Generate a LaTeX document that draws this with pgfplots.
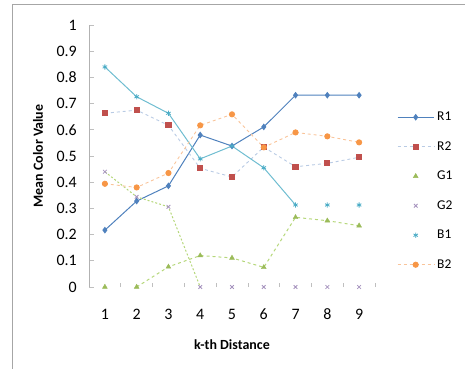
\documentclass[border=0pt]{standalone}
\usepackage{fontspec}
\setmainfont{Carlito}
\usepackage{pgfplots}
\pgfplotsset{compat=1.18}
\definecolor{cR}{HTML}{4F81BD}
\definecolor{cRl}{HTML}{B9CBE4}
\definecolor{cRed}{HTML}{C0504D}
\definecolor{cG}{HTML}{9BBB59}
\definecolor{cGl}{HTML}{B5D77A}
\definecolor{cP}{HTML}{8064A2}
\definecolor{cB}{HTML}{4BACC6}
\definecolor{cO}{HTML}{F79646}
\definecolor{cOl}{HTML}{F9C49A}
\begin{document}
\begin{tikzpicture}
\useasboundingbox (0,0) rectangle (465bp,369bp);
\draw[gray!70, line width=1bp] (12bp,0) -- (12bp,364bp) -- (465bp,364bp);
\begin{axis}[
  at={(89bp,82bp)}, anchor=south west,
  scale only axis, width=286bp, height=262bp,
  xmin=0.5, xmax=9.5, ymin=0, ymax=1,
  xtick={1,...,9}, major x tick style={draw=none},
  minor xtick={1.5,2.5,...,9.5}, minor x tick style={gray!50, line width=0.6bp},
  minor tick length=4bp,
  ytick={0,0.1,...,1.0},
  yticklabels={0,0.1,0.2,0.3,0.4,0.5,0.6,0.7,0.8,0.9,1},
  major tick length=5bp,
  tick align=inside,
  y tick style={gray!50, line width=0.6bp},
  axis x line*=bottom, axis y line*=left,
  x axis line style={draw=none},
  y axis line style={gray!60, line width=0.6bp},
  tick label style={font=\fontsize{16}{18}\selectfont, inner sep=0pt},
  /pgf/number format/assume math mode=true,
  xticklabel style={anchor=center, yshift=-27bp},
  yticklabel style={anchor=east, xshift=-12bp},
  xlabel={\textbf{k-th Distance}},
  ylabel={\textbf{Mean Color Value}},
  label style={font=\fontsize{14}{16}\selectfont},
  xlabel style={at={(axis description cs:0.5,0)}, anchor=center, yshift=-58bp},
  ylabel style={at={(axis description cs:-0.178,0.5)}, anchor=center},
  legend style={draw=none, fill=none, at={(axis description cs:1.077,0.705)}, anchor=north west,
    inner sep=0pt, row sep=0pt, font=\fontsize{13.5}{16}\selectfont,
    nodes={inner sep=0pt, minimum height=29.5bp}, cells={anchor=west}},
  legend image code/.code={\draw[mark repeat=2,mark phase=2] plot coordinates {(0bp,0bp) (18bp,0bp) (36bp,0bp)}; \node[anchor=west] at (38bp,0) {};},
  clip=false,
]
% R1
\addplot[cR, line width=1bp, mark=diamond*, mark size=2.6bp, mark options={solid, fill=cR}]
 coordinates {(1,0.217) (2,0.328) (3,0.386) (4,0.58) (5,0.538) (6,0.611) (7,0.732) (8,0.732) (9,0.732)};
\addlegendentry{R1}
% R2
\addplot[cRl, line width=0.9bp, dashed, mark=square*, mark size=2.6bp, mark options={solid, fill=cRed, draw=cRed}]
 coordinates {(1,0.663) (2,0.675) (3,0.617) (4,0.453) (5,0.42) (6,0.534) (7,0.459) (8,0.472) (9,0.495)};
\addlegendentry{R2}
% G1
\addplot[cGl, line width=1bp, dashed, forget plot]
 coordinates {(2,0) (3,0.077) (4,0.12) (5,0.111) (6,0.075) (7,0.266) (8,0.253) (9,0.234)};
\addplot[only marks, cG, mark=triangle*, mark size=2.8bp, mark options={fill=cG}]
 coordinates {(1,0) (2,0) (3,0.077) (4,0.12) (5,0.111) (6,0.075) (7,0.266) (8,0.253) (9,0.234)};
\addlegendentry{G1}
% G2
\addplot[cGl, line width=1bp, dash pattern=on 2bp off 2bp, forget plot]
 coordinates {(1,0.44) (2,0.344) (3,0.306) (4,0)};
\addplot[only marks, cP!70, mark=x, mark size=2.6bp, line width=0.8bp]
 coordinates {(1,0.44) (2,0.344) (3,0.306) (4,0) (5,0) (6,0) (7,0) (8,0) (9,0)};
\addlegendentry{G2}
% B1
\addplot[cB!80, line width=1bp, forget plot]
 coordinates {(1,0.84) (2,0.726) (3,0.663) (4,0.489) (5,0.538) (6,0.455) (7,0.313)};
\addplot[only marks, cB, mark=asterisk, mark size=2.6bp, line width=0.8bp]
 coordinates {(1,0.84) (2,0.726) (3,0.663) (4,0.489) (5,0.538) (6,0.455) (7,0.313) (8,0.313) (9,0.313)};
\addlegendentry{B1}
% B2
\addplot[cOl, line width=0.9bp, dashed, mark=*, mark size=2.6bp, mark options={solid, fill=cO, draw=cO}]
 coordinates {(1,0.394) (2,0.38) (3,0.435) (4,0.617) (5,0.659) (6,0.533) (7,0.59) (8,0.575) (9,0.552)};
\addlegendentry{B2}
\end{axis}
\end{tikzpicture}
\end{document}
